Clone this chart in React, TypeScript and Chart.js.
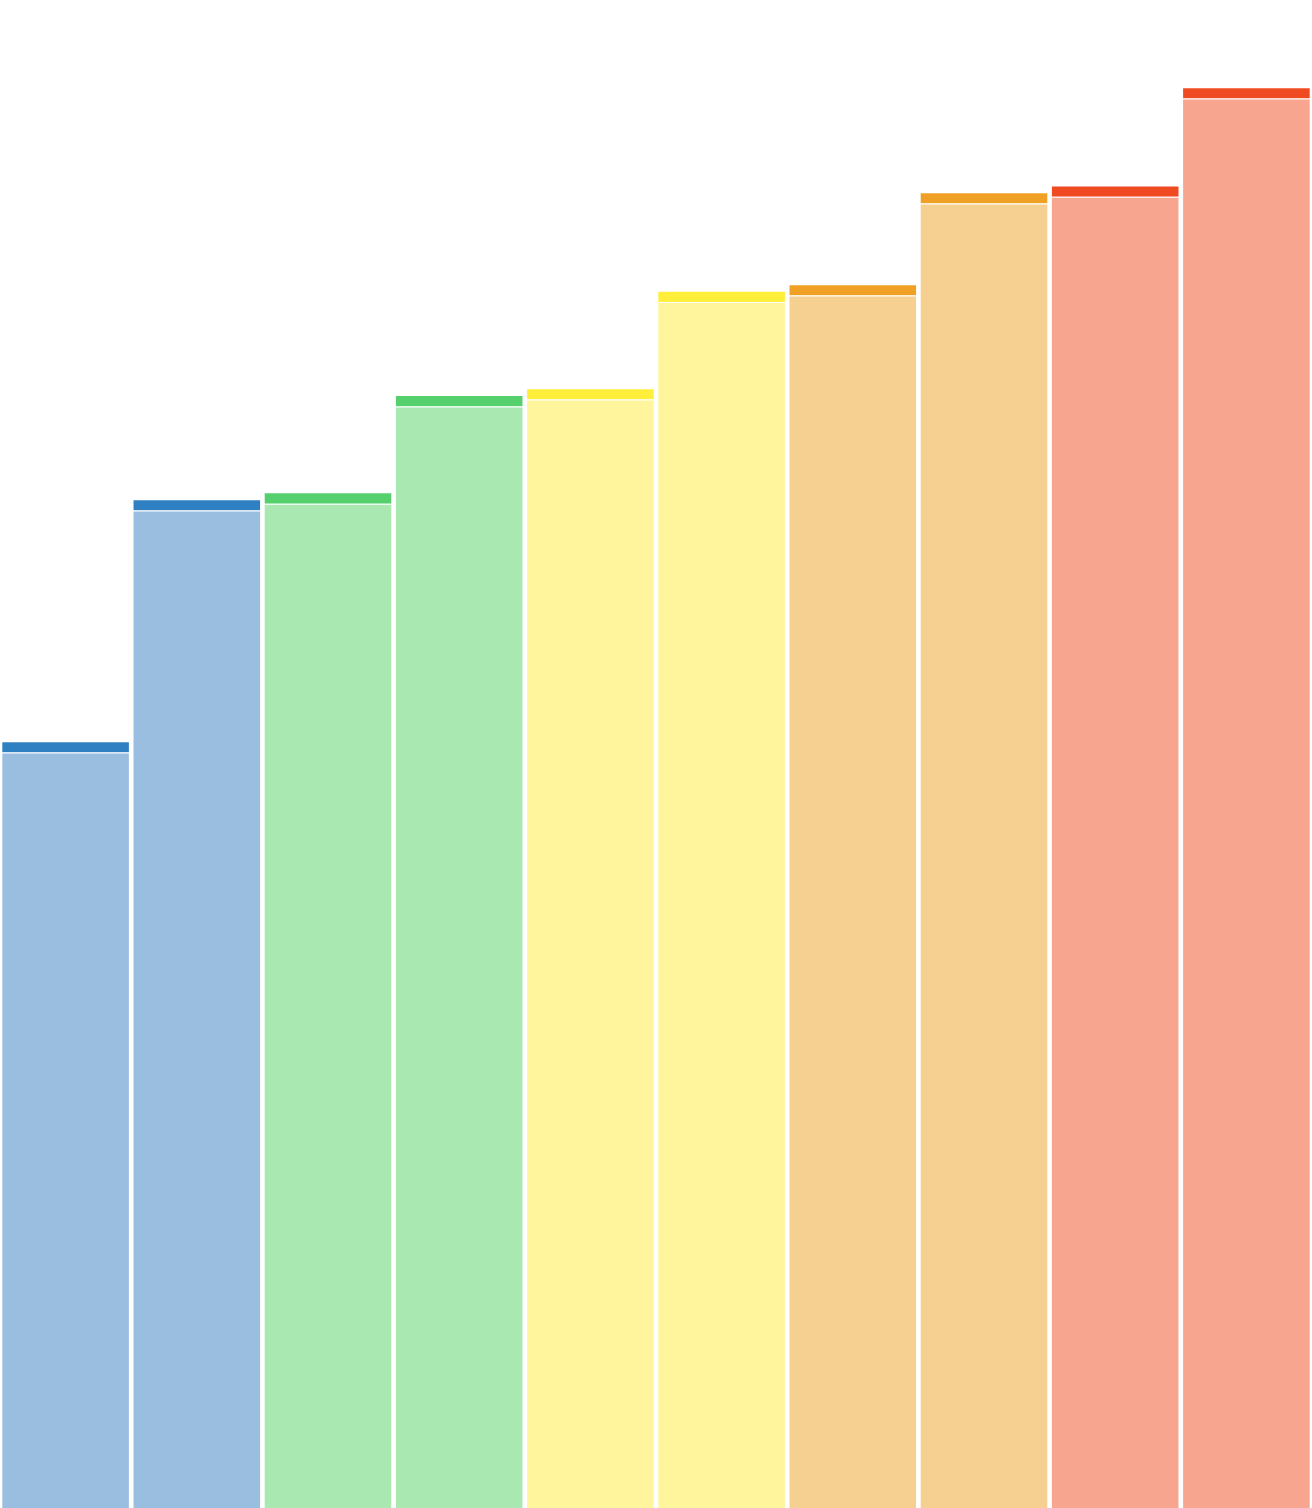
import { useEffect, useRef } from "react"
import { Chart, registerables } from "chart.js"

Chart.register(...registerables)

const categories = ["A", "B", "C", "D", "E", "F", "G", "H", "I", "J"]
const baseValues = [50.1, 66.15, 66.6, 73.05, 73.5, 79.97, 80.4, 86.5, 86.95, 93.47]
const capValues = [0.75, 0.75, 0.75, 0.75, 0.75, 0.75, 0.75, 0.75, 0.75, 0.75]

const baseColors = [
  "#99bee0", "#99bee0",
  "#aae8b2", "#aae8b2",
  "#fef59d", "#fef59d",
  "#f6d091", "#f6d091",
  "#f8a590", "#f8a590",
]
const capColors = [
  "#2f80c2", "#2f80c2",
  "#55d06c", "#55d06c",
  "#ffee3a", "#ffee3a",
  "#f0a024", "#f0a024",
  "#f04a22", "#f04a22",
]

export default function App() {
  const canvasRef = useRef<HTMLCanvasElement | null>(null)
  const chartRef = useRef<Chart | null>(null)

  useEffect(() => {
    if (!canvasRef.current) return
    if (chartRef.current) chartRef.current.destroy()

    chartRef.current = new Chart(canvasRef.current, {
      type: "bar",
      data: {
        labels: categories,
        datasets: [
          {
            data: baseValues,
            backgroundColor: baseColors,
            borderColor: "#ffffff",
            borderWidth: 1,
            barPercentage: 0.98,
            categoryPercentage: 1,
          },
          {
            data: capValues,
            backgroundColor: capColors,
            borderColor: "rgba(255,255,255,0.5)",
            borderWidth: 1,
            barPercentage: 0.98,
            categoryPercentage: 1,
          },
        ],
      },
      options: {
        animation: false,
        responsive: true,
        maintainAspectRatio: false,
        layout: { padding: 0 },
        plugins: {
          legend: { display: false },
          tooltip: { enabled: false },
          title: { display: false },
        },
        scales: {
          x: { stacked: true, display: false },
          y: { stacked: true, display: false, min: 0, max: 100 },
        },
      },
    })

    return () => {
      if (chartRef.current) {
        chartRef.current.destroy()
        chartRef.current = null
      }
    }
  }, [])

  return (
    <div style={{ position: "fixed", left: 0, top: 0, width: "100vw", height: "100vh", background: "#ffffff" }}>
      <canvas ref={canvasRef} />
    </div>
  )
}
